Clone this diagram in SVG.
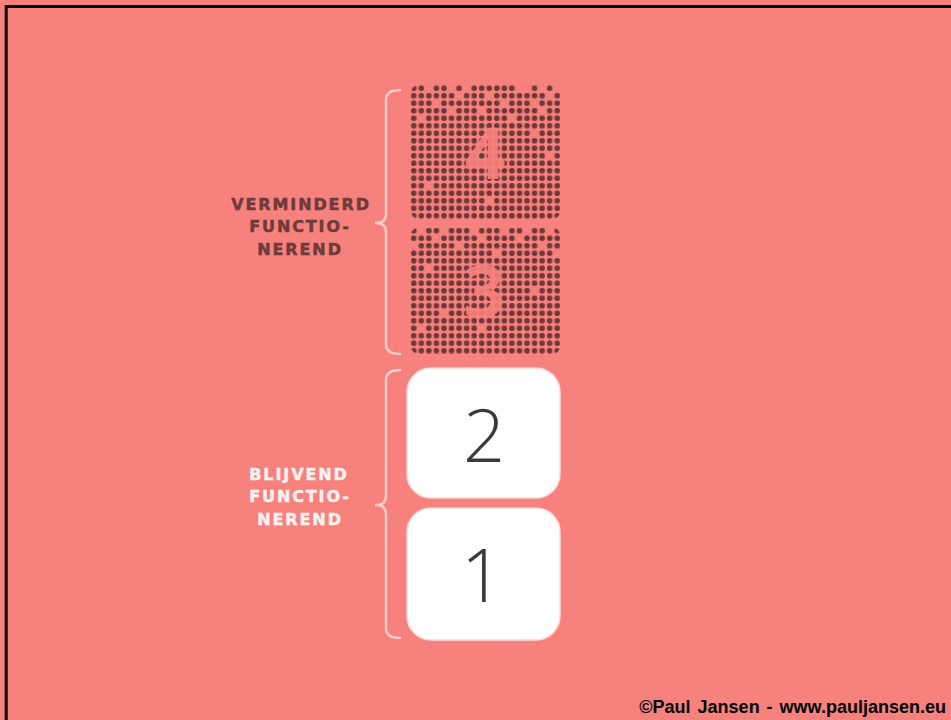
<svg xmlns="http://www.w3.org/2000/svg" width="951" height="720" viewBox="0 0 951 720">
<style>
.bg{fill:#F7817C}
.brace{fill:none;stroke:#FFCBC5;stroke-width:2.5;stroke-linecap:round;stroke-linejoin:round}
.lblD{font-family:"DejaVu Sans",sans-serif;font-weight:bold;font-size:16px;letter-spacing:1.9px;fill:#6E3A3A;stroke:#6E3A3A;stroke-width:0.5;text-anchor:middle}
.lblW{font-family:"DejaVu Sans",sans-serif;font-weight:bold;font-size:16px;letter-spacing:1.9px;fill:#FFF1EF;stroke:#FFF1EF;stroke-width:0.5;text-anchor:middle}
.box{fill:#FFFFFF;stroke:#FBD9D5;stroke-width:1.5}
.num{font-family:"Open Sans",sans-serif;font-weight:300;font-size:74px;fill:#3A3A3A;text-anchor:middle}
.hole{font-family:"Open Sans",sans-serif;font-weight:700;font-size:72px;fill:#F7817C;text-anchor:middle;opacity:0.9}
.h{fill:#F7817C}
.copy{font-family:"Liberation Sans",Arial,sans-serif;font-weight:bold;font-size:18px;fill:#000;text-anchor:end;word-spacing:2px}
</style>
<defs>
<pattern id="dots" patternUnits="userSpaceOnUse" x="410" y="84.5" width="7.55" height="7.5">
<circle cx="3.77" cy="3.75" r="2.8" fill="#6E3838"/>
</pattern>
</defs>
<rect class="bg" x="0" y="0" width="951" height="720"/>
<path d="M6.2,720 V6.6 H951" fill="none" stroke="#000" stroke-width="3"/>

<g id="connectors">
<path class="brace" d="M400,90 Q386,90 386,100 L386,214 Q386,223 376,223 Q386,223 386,232 L386,344 Q386,354 400,354"/>
<path class="brace" d="M400,370 Q386,370 386,380 L386,496 Q386,505 376,505 Q386,505 386,514 L386,628 Q386,638 400,638"/>
</g>

<g id="level4">
<rect x="410" y="84.5" width="151" height="135" rx="10" fill="url(#dots)"/>
<text class="hole" x="485" y="179">4</text>
<g>
<circle class="h" cx="428.9" cy="88.25" r="3.3"/><circle class="h" cx="451.5" cy="88.25" r="3.3"/><circle class="h" cx="466.6" cy="88.25" r="3.3"/><circle class="h" cx="519.5" cy="88.25" r="3.3"/><circle class="h" cx="527" cy="88.25" r="3.3"/><circle class="h" cx="542.1" cy="88.25" r="3.3"/><circle class="h" cx="557.2" cy="88.25" r="3.3"/>
<circle class="h" cx="459.1" cy="95.75" r="3.3"/><circle class="h" cx="489.3" cy="95.75" r="3.3"/><circle class="h" cx="549.7" cy="95.75" r="3.3"/>
<circle class="h" cx="436.4" cy="103.25" r="3.3"/><circle class="h" cx="504.4" cy="103.25" r="3.3"/><circle class="h" cx="534.6" cy="103.25" r="3.3"/>
<circle class="h" cx="451.5" cy="110.75" r="3.3"/><circle class="h" cx="481.7" cy="110.75" r="3.3"/><circle class="h" cx="542.1" cy="110.75" r="3.3"/>
<circle class="h" cx="421.3" cy="118.25" r="3.3"/><circle class="h" cx="511.9" cy="118.25" r="3.3"/>
<circle class="h" cx="534.6" cy="133.25" r="3.3"/><circle class="h" cx="549.7" cy="155.75" r="3.3"/>
<circle class="h" cx="428.9" cy="185.75" r="3.3"/><circle class="h" cx="489.3" cy="200.75" r="3.3"/>
</g>
</g>

<g id="level3">
<rect x="410" y="227" width="151" height="127.5" rx="10" fill="url(#dots)"/>
<text class="hole" x="484" y="317">3</text>
<g>
<circle class="h" cx="421.3" cy="230.75" r="3.3"/><circle class="h" cx="444" cy="230.75" r="3.3"/><circle class="h" cx="474.2" cy="230.75" r="3.3"/><circle class="h" cx="504.4" cy="230.75" r="3.3"/><circle class="h" cx="527" cy="230.75" r="3.3"/><circle class="h" cx="549.7" cy="230.75" r="3.3"/>
<circle class="h" cx="436.4" cy="238.25" r="3.3"/><circle class="h" cx="481.7" cy="238.25" r="3.3"/><circle class="h" cx="519.5" cy="238.25" r="3.3"/>
<circle class="h" cx="413.8" cy="245.75" r="3.3"/><circle class="h" cx="459.1" cy="245.75" r="3.3"/><circle class="h" cx="542.1" cy="245.75" r="3.3"/>
<circle class="h" cx="496.8" cy="253.25" r="3.3"/><circle class="h" cx="557.2" cy="253.25" r="3.3"/>
<circle class="h" cx="428.9" cy="268.25" r="3.3"/><circle class="h" cx="534.6" cy="290.75" r="3.3"/>
<circle class="h" cx="444" cy="313.25" r="3.3"/><circle class="h" cx="421.3" cy="328.25" r="3.3"/><circle class="h" cx="481.7" cy="328.25" r="3.3"/>
</g>
</g>

<g id="level2">
<rect class="box" x="407" y="368" width="153" height="130" rx="24"/>
<text class="num" x="484" y="462">2</text>
</g>

<g id="level1">
<rect class="box" x="407" y="508" width="153" height="132" rx="24"/>
<text class="num" x="482" y="602">1</text>
</g>

<g id="label-verminderd">
<text class="lblD" x="301" y="210">VERMINDERD</text>
<text class="lblD" x="300" y="232">FUNCTIO-</text>
<text class="lblD" x="300" y="255">NEREND</text>
</g>

<g id="label-blijvend">
<text class="lblW" x="299" y="480">BLIJVEND</text>
<text class="lblW" x="300" y="502">FUNCTIO-</text>
<text class="lblW" x="300" y="525">NEREND</text>
</g>

<text class="copy" x="946" y="713">©Paul Jansen - www.pauljansen.eu</text>
</svg>
